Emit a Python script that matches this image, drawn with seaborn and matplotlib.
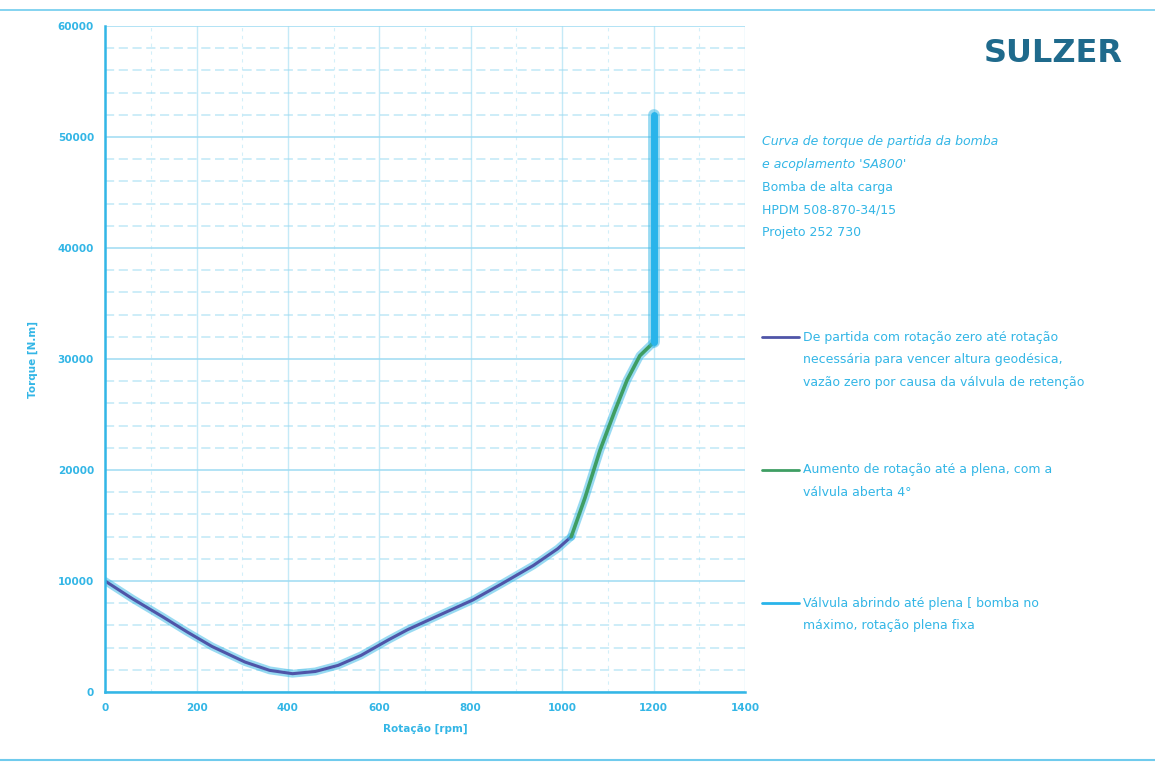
import matplotlib
matplotlib.use("Agg")
import matplotlib.pyplot as plt
from matplotlib.lines import Line2D
from matplotlib.ticker import MultipleLocator
import seaborn as sns
import pandas as pd

# ---- data ----
seg1_rpm = [0, 60, 125, 180, 234, 306, 360, 410, 460, 510, 560, 620, 661, 730, 805, 870, 937, 990, 1020]
seg1_torque = [10000, 8400, 6800, 5400, 4100, 2700, 1950, 1650, 1850, 2400, 3300, 4700, 5600, 6900, 8300, 9800, 11400, 12900, 14000]
seg2_rpm = [1020, 1050, 1083, 1115, 1142, 1170, 1200]
seg2_torque = [14000, 17500, 21800, 25300, 28100, 30300, 31500]
seg3_rpm = [1200, 1200]
seg3_torque = [31500, 52000]

x_ticks = [0, 200, 400, 600, 800, 1000, 1200, 1400]
y_ticks = [0, 10000, 20000, 30000, 40000, 50000, 60000]

info_lines = [
    "Curva de torque de partida da bomba",
    "e acoplamento 'SA800'",
    "Bomba de alta carga",
    "HPDM 508-870-34/15",
    "Projeto 252 730",
]
legend_texts = [
    ["De partida com rotação zero até rotação",
     "necessária para vencer altura geodésica,",
     "vazão zero por causa da válvula de retenção"],
    ["Aumento de rotação até a plena, com a",
     "válvula aberta 4°"],
    ["Válvula abrindo até plena [ bomba no",
     "máximo, rotação plena fixa"],
]

CYAN = "#33b6e6"
LIGHT = "#9fdcf3"
seg_colors = ["#4f55a8", "#3f9e63", "#29b4ea"]
seg_widths = [2.2, 2.6, 5.0]

sns.set_style("white")
plt.rcParams["font.family"] = ["DejaVu Sans"]

fig = plt.figure(figsize=(11.55, 7.66), dpi=100)
ax = fig.add_axes([0.091, 0.0966, 0.554, 0.8694])

segments = [(seg1_rpm, seg1_torque), (seg2_rpm, seg2_torque), (seg3_rpm, seg3_torque)]
for (xs, ys), c, w in zip(segments, seg_colors, seg_widths):
    df = pd.DataFrame({"rpm": xs, "torque": ys})
    # cyan halo like the scanned original
    sns.lineplot(data=df, x="rpm", y="torque", ax=ax, color=CYAN, lw=w + 3.5,
                 alpha=0.5, sort=False, estimator=None)
    sns.lineplot(data=df, x="rpm", y="torque", ax=ax, color=c, lw=w,
                 sort=False, estimator=None)

ax.set_xlim(0, 1400)
ax.set_ylim(0, 60000)
ax.set_xticks(x_ticks)
ax.set_yticks(y_ticks)
ax.set_xticklabels([str(v) for v in x_ticks])
ax.set_yticklabels([str(v) for v in y_ticks])
ax.xaxis.set_minor_locator(MultipleLocator(100))
ax.yaxis.set_minor_locator(MultipleLocator(2000))
ax.grid(True, which="major", axis="y", color=LIGHT, lw=1.4, alpha=0.8)
ax.grid(True, which="minor", axis="y", color=LIGHT, lw=1.1, alpha=0.65, ls=(0, (6, 3)))
ax.grid(True, which="major", axis="x", color=LIGHT, lw=1.0, alpha=0.6)
ax.grid(True, which="minor", axis="x", color=LIGHT, lw=0.8, alpha=0.45, ls=(0, (3, 4)))
ax.tick_params(axis="both", which="both", length=0, colors=CYAN, labelsize=7.5, pad=8)
for lab in ax.get_xticklabels() + ax.get_yticklabels():
    lab.set_fontweight("bold")
for s in ["top", "right"]:
    ax.spines[s].set_visible(False)
for s in ["left", "bottom"]:
    ax.spines[s].set_color(CYAN)
    ax.spines[s].set_linewidth(1.8)

ax.set_xlabel("Rotação [rpm]", color=CYAN, fontsize=7.5, labelpad=8, fontweight="bold")
ax.set_ylabel("Torque [N.m]", color=CYAN, fontsize=7.5, labelpad=14, fontweight="bold")

# scan border lines
fig.add_artist(Line2D([0.0, 1.0], [0.987, 0.987], color=CYAN, lw=1.2, alpha=0.7))
fig.add_artist(Line2D([0.0, 1.0], [0.008, 0.008], color=CYAN, lw=1.5, alpha=0.7))

# logo
fig.text(0.852, 0.93, "SULZER", color="#1f6a8c", fontsize=23, fontweight="bold",
         ha="left", va="center")

# info block
y0 = 1 - 142 / 766
for i, line in enumerate(info_lines):
    fig.text(0.66, y0 - i * 0.0295, line, color=CYAN, fontsize=9,
             style="italic" if i < 2 else "normal", ha="left", va="center")

# legend entries
legend_y = [1 - 337 / 766, 1 - 470 / 766, 1 - 603 / 766]
for txts, c, ly in zip(legend_texts, seg_colors, legend_y):
    fig.add_artist(Line2D([0.66, 0.692], [ly, ly], color=c, lw=2))
    for j, t in enumerate(txts):
        fig.text(0.695, ly - j * 0.0295, t, color=CYAN, fontsize=9,
                 ha="left", va="center")

fig.savefig("out.png", dpi=100)
